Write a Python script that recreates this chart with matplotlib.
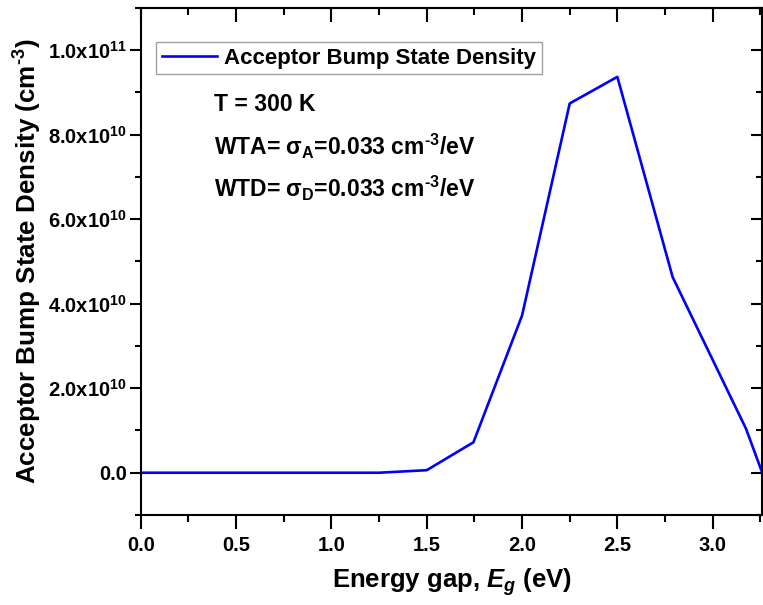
import matplotlib
matplotlib.use("Agg")
import matplotlib.pyplot as plt
from matplotlib.ticker import MultipleLocator, FuncFormatter

plt.rcParams["font.family"] = ["Liberation Sans", "DejaVu Sans"]
plt.rcParams["font.weight"] = "bold"
plt.rcParams["mathtext.fontset"] = "custom"
plt.rcParams["mathtext.rm"] = "Liberation Sans:bold"
plt.rcParams["mathtext.bf"] = "Liberation Sans:bold"
plt.rcParams["mathtext.it"] = "Liberation Sans:italic:bold"
plt.rcParams["mathtext.default"] = "rm"

# Energy gap (eV) and acceptor bump state density (cm^-3)
energy_gap = [0.0, 0.25, 0.5, 0.75, 1.0, 1.25, 1.5, 1.745, 2.0, 2.25, 2.5, 2.79, 3.175, 3.26]
density = [0.0, 0.0, 0.0, 0.0, 0.0, 0.0, 0.06e10, 0.72e10, 3.72e10, 8.74e10,
           9.37e10, 4.63e10, 1.04e10, 0.0]

series_label = "Acceptor Bump State Density"
notes = ["T = 300 K",
         r"WTA= $\sigma_{\mathrm{A}}$=0.033 cm$^{\text{-}3}$/eV",
         r"WTD= $\sigma_{\mathrm{D}}$=0.033 cm$^{\text{-}3}$/eV"]

fig = plt.figure(figsize=(7.63, 6.05), dpi=100)
ax = fig.add_axes([0.1845, 0.1488, 0.8145, 0.838])

ax.plot(energy_gap, density, color="#0000ff", lw=1.9, label=series_label)

ax.set_xlim(0, 3.26)
ax.set_ylim(-1e10, 1.1e11)
ax.xaxis.set_major_locator(MultipleLocator(0.5))
ax.xaxis.set_minor_locator(MultipleLocator(0.25))
ax.yaxis.set_major_locator(MultipleLocator(2e10))
ax.yaxis.set_minor_locator(MultipleLocator(1e10))


def sci_fmt(v, pos):
    if abs(v) < 1:
        return "0.0"
    exp = 0
    m = abs(v)
    while m >= 10:
        m /= 10
        exp += 1
    sign = "-" if v < 0 else ""
    return sign + "%.1fx10$^{%d}$" % (m, exp)


ax.yaxis.set_major_formatter(FuncFormatter(sci_fmt))
ax.xaxis.set_major_formatter(FuncFormatter(lambda v, p: "%.1f" % v))

for s in ax.spines.values():
    s.set_linewidth(1.5)

ax.tick_params(which="both", direction="out", width=1.5, labelsize=14.5)
ax.tick_params(axis="x", which="major", length=10, pad=5)
ax.tick_params(axis="x", which="minor", length=5)
ax.tick_params(axis="y", which="major", length=8, pad=2)
ax.tick_params(axis="y", which="minor", length=4)

# inward ticks on the top and right frame
top = ax.secondary_xaxis("top")
top.xaxis.set_major_locator(MultipleLocator(0.5))
top.xaxis.set_minor_locator(MultipleLocator(0.25))
top.tick_params(which="both", direction="in", width=1.5, labeltop=False)
top.tick_params(which="major", length=10)
top.tick_params(which="minor", length=5)
top.spines["top"].set_linewidth(1.5)
right = ax.secondary_yaxis("right")
right.yaxis.set_major_locator(MultipleLocator(2e10))
right.yaxis.set_minor_locator(MultipleLocator(1e10))
right.tick_params(which="both", direction="in", width=1.5, labelright=False)
right.tick_params(which="major", length=8)
right.tick_params(which="minor", length=4)

ax.set_xlabel(r"Energy gap, $\it{E_g}$ (eV)", fontsize=18.5, fontweight="bold", labelpad=8)
ax.set_ylabel(r"Acceptor Bump State Density (cm$^{\text{-}3}$)", fontsize=18.7,
              fontweight="bold", labelpad=3)

leg = ax.legend(loc="upper left", bbox_to_anchor=(0.025, 0.933), fontsize=16.0,
                frameon=True, fancybox=False, edgecolor="#888888",
                handlelength=2.5, handletextpad=0.3, borderpad=0.25,
                borderaxespad=0)
leg.get_frame().set_linewidth(1.0)

for i, t in enumerate(notes):
    ax.text(0.118, 0.81 - i * 0.083, t, transform=ax.transAxes, fontsize=16.5,
            fontweight="bold", va="center", ha="left")

fig.savefig("out.png", dpi=100)
